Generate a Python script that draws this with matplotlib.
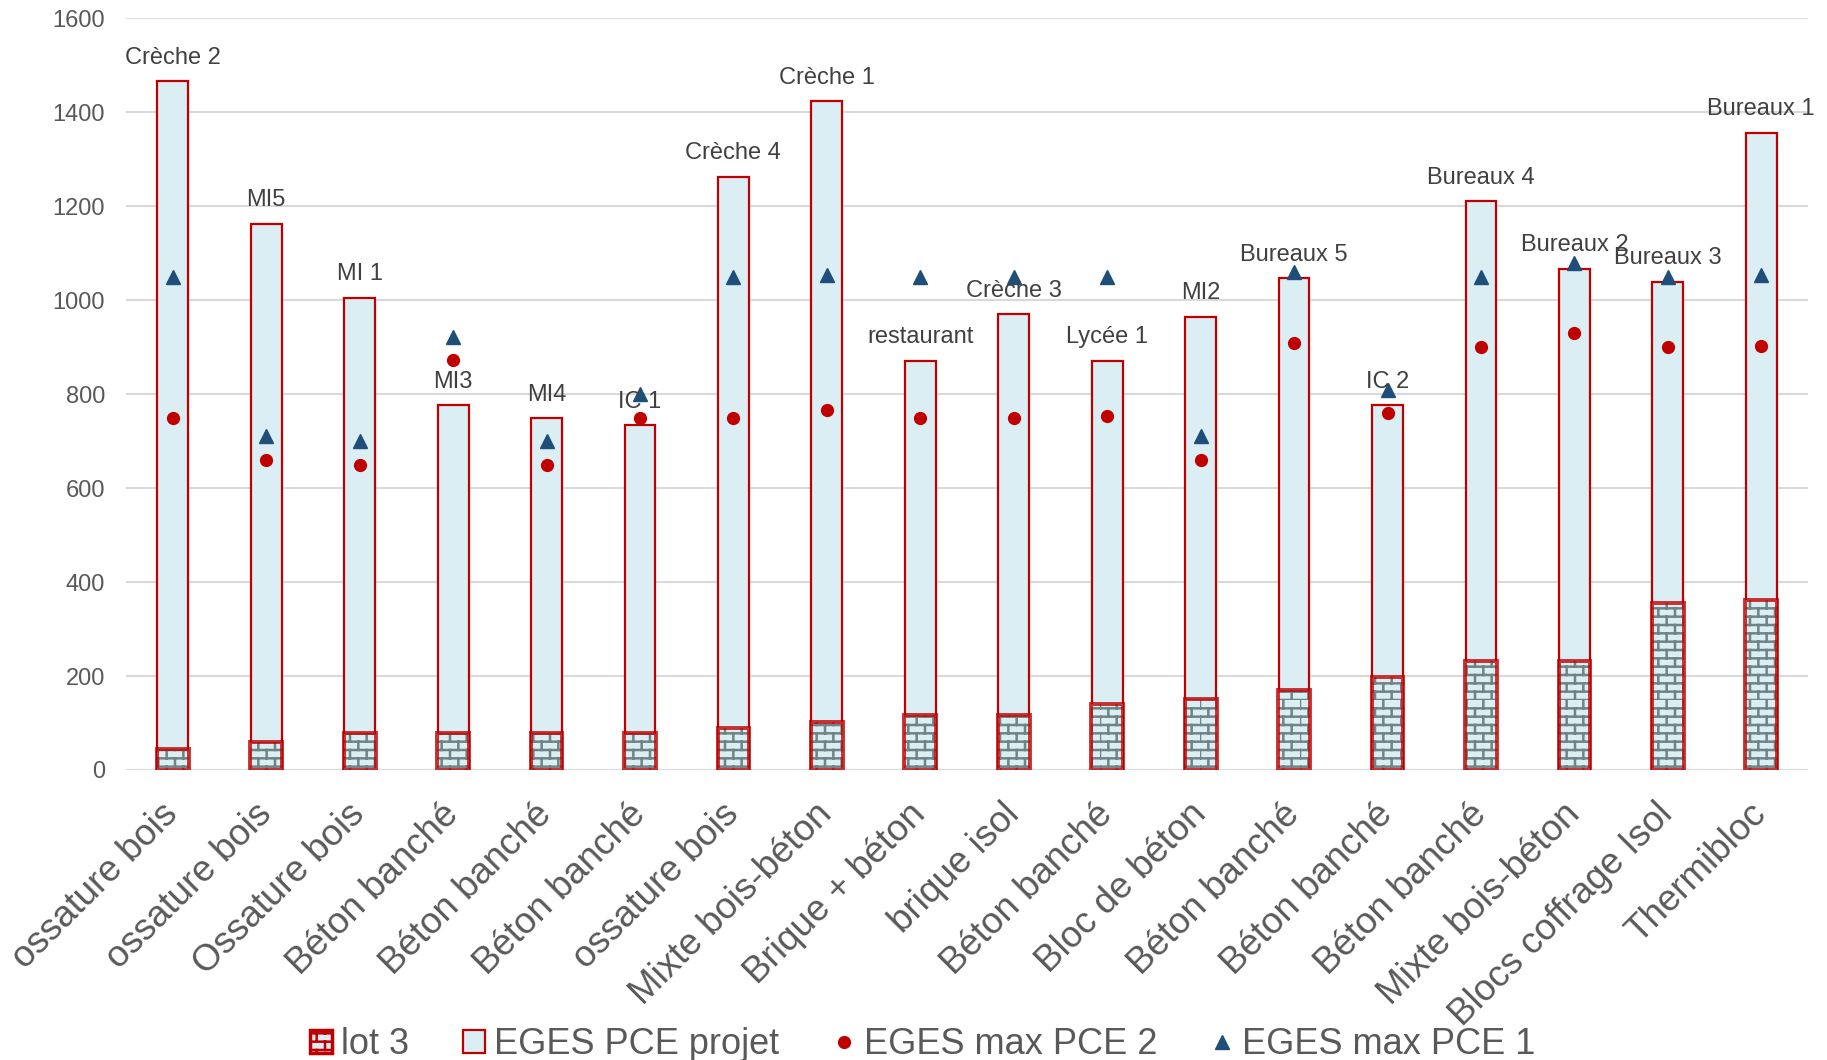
import numpy as np
import matplotlib
matplotlib.use('Agg')
import matplotlib.pyplot as plt
from matplotlib import hatch as mhatch
from matplotlib.path import Path
from matplotlib.patches import Patch
from matplotlib.lines import Line2D
import warnings
warnings.filterwarnings('ignore')

plt.rcParams['font.family'] = ['Liberation Sans', 'DejaVu Sans']
plt.rcParams['hatch.linewidth'] = 1.8

# data
systems = ['ossature bois', 'ossature bois', 'Ossature bois', 'Béton banché', 'Béton banché',
           'Béton banché', 'ossature bois', 'Mixte bois-béton', 'Brique + béton', 'brique isol',
           'Béton banché', 'Bloc de béton', 'Béton banché', 'Béton banché', 'Béton banché',
           'Mixte bois-béton', 'Blocs coffrage Isol', 'Thermibloc']
projects = ['Crèche 2', 'MI5', 'MI 1', 'MI3', 'MI4', 'IC 1', 'Crèche 4', 'Crèche 1', 'restaurant',
            'Crèche 3', 'Lycée 1', 'MI2', 'Bureaux 5', 'IC 2', 'Bureaux 4', 'Bureaux 2',
            'Bureaux 3', 'Bureaux 1']
pce_projet = [1466, 1163, 1005, 776, 749, 734, 1263, 1424, 871, 970, 871, 965, 1047, 776,
              1211, 1067, 1039, 1357]
lot3 = [45, 60, 79, 79, 79, 79, 89, 102, 117, 117, 141, 151, 171, 198, 231, 233, 355, 362]
pce_max2 = [750, 660, 650, 873, 650, 750, 750, 767, 750, 750, 754, 660, 910, 759, 900, 930, 900, 903]
pce_max1 = [1050, 710, 700, 922, 700, 800, 1050, 1054, 1050, 1050, 1050, 710, 1060, 810, 1050,
            1080, 1050, 1054]


# brick pattern for the lot 3 bars ('b' in the hatch string)
class BrickHatch(mhatch.HatchPatternBase):
    def __init__(self, hatch, density):
        self.n = int(hatch.count('b') * density)
        self.num_vertices = 2 * (2 * self.n) + 2 * (2 * self.n * self.n)

    def set_vertices_and_codes(self, vertices, codes):
        n = self.n
        s = 1.0 / n
        k = 0
        for r in range(2 * n):
            y = r * s / 2
            vertices[k] = (0, y)
            vertices[k + 1] = (1, y)
            k += 2
        for i in range(n):
            for j in range(n):
                x0, y0 = i * s, j * s
                vertices[k] = (x0 + s / 2, y0)
                vertices[k + 1] = (x0 + s / 2, y0 + s / 2)
                vertices[k + 2] = (x0, y0 + s / 2)
                vertices[k + 3] = (x0, y0 + s)
                k += 4
        codes[0::2] = Path.MOVETO
        codes[1::2] = Path.LINETO


mhatch._hatch_types.append(BrickHatch)

red = '#c00000'
light = '#daeef3'
brick = '#6f8585'
gray = '#595959'

fig = plt.figure(figsize=(18.27, 10.6), dpi=100)
ax = fig.add_axes([0.069, 0.2736, 0.9206, 0.709])

x = np.arange(len(systems))
ax.bar(x, pce_projet, width=0.33, color=light, edgecolor=red, linewidth=1.6, zorder=2)
ax.bar(x, lot3, width=0.34, color=light, edgecolor=brick, linewidth=0, hatch='b', zorder=3)
ax.bar(x, lot3, width=0.34, fill=False, edgecolor=red, linewidth=2.8, alpha=0.8, zorder=4)
ax.plot(x, pce_max2, 'o', color=red, markersize=8.5, linestyle='none', zorder=5)
ax.plot(x, pce_max1, '^', color='#1f4e79', markersize=10, linestyle='none', zorder=5)

for xi, v, lab in zip(x, pce_projet, projects):
    ax.annotate(lab, (xi, v), xytext=(0, 17), textcoords='offset points',
                ha='center', va='center', fontsize=17, color='#404040', zorder=6)

ax.set_xlim(-0.5, len(systems) - 0.5)
ax.set_ylim(0, 1600)
ax.set_yticks(np.arange(0, 1601, 200))
ax.yaxis.grid(True, color='#d9d9d9', linewidth=1.5, zorder=0)
ax.set_axisbelow(True)
for sp in ax.spines.values():
    sp.set_visible(False)
ax.tick_params(axis='y', length=0, pad=15, labelsize=17, labelcolor=gray)
ax.tick_params(axis='x', length=0, pad=28)
ax.set_xticks(x)
ax.set_xticklabels(systems, rotation=45, ha='right', va='center', rotation_mode='anchor',
                   fontsize=26.5, color=gray)

handles = [
    Patch(facecolor=light, edgecolor=red, hatch='b', linewidth=2.5),
    Patch(facecolor=light, edgecolor=red, linewidth=1.6),
    Line2D([], [], marker='o', color=red, linestyle='none', markersize=8.5),
    Line2D([], [], marker='^', color='#1f4e79', linestyle='none', markersize=10),
]
labels = ['lot 3', 'EGES PCE projet', 'EGES max PCE 2', 'EGES max PCE 1']
leg = fig.legend(handles, labels, loc='lower center', bbox_to_anchor=(0.505, -0.033), ncol=4,
                 frameon=False, fontsize=26, handlelength=0.6, handleheight=0.6,
                 handletextpad=0.25, columnspacing=1.5, labelcolor=gray)

fig.savefig('out.png', dpi=100)
